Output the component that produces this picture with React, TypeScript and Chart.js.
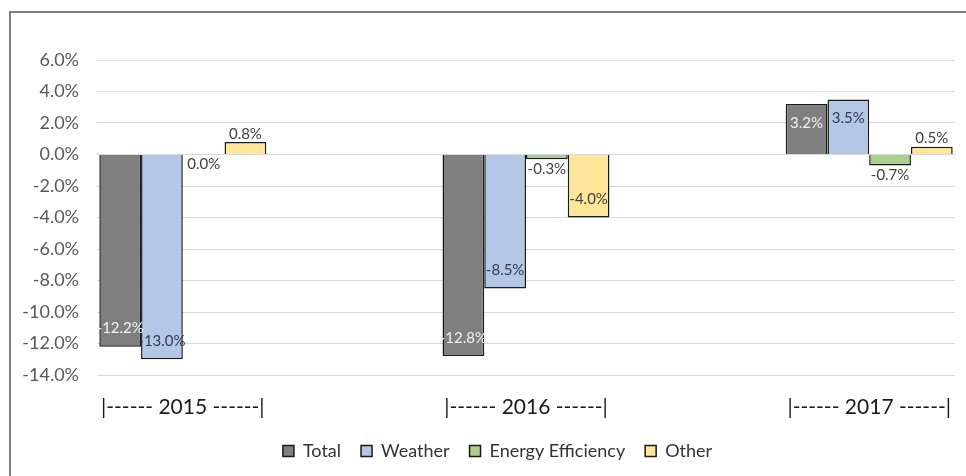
import React, { useEffect, useRef } from "react";
import { Chart, registerables } from "chart.js";

Chart.register(...registerables);

const categories = ["|------ 2015 ------|", "", "|------ 2016 ------|", "", "|------ 2017 ------|"];
const totalValues = [-12.2, null, -12.8, null, 3.2];
const weatherValues = [-13.0, null, -8.5, null, 3.5];
const efficiencyValues = [0.0, null, -0.3, null, -0.7];
const otherValues = [0.8, null, -4.0, null, 0.5];
const seriesNames = ["Total", "Weather", "Energy Efficiency", "Other"];
const seriesColors = ["#7f7f7f", "#b4c7e7", "#a9d18e", "#ffe699"];
const labelColors = ["#f2f2f2", "#2f3b52", "#404040", "#404040"];
const yMin = -14;
const yMax = 6;
const yStep = 2;

const FONT = 'Lato, "Open Sans", sans-serif';

const labelPlugin = {
  id: "barLabels",
  afterDatasetsDraw(chart: any) {
    const ctx = chart.ctx;
    ctx.save();
    ctx.font = `15px ${FONT}`;
    ctx.textAlign = "center";
    ctx.textBaseline = "middle";
    chart.data.datasets.forEach((ds: any, di: number) => {
      const meta = chart.getDatasetMeta(di);
      meta.data.forEach((bar: any, i: number) => {
        const v = ds.data[i];
        if (v === null || v === undefined) return;
        const h = Math.abs(bar.y - bar.base);
        let y: number;
        let color = "#404040";
        if (h > 25) {
          y = v >= 0 ? bar.y + 19 : bar.y - 18;
          color = labelColors[di];
        } else {
          y = v > 0 ? bar.y - 8 : bar.y + 10;
        }
        ctx.fillStyle = color;
        ctx.fillText(v.toFixed(1) + "%", bar.x, y);
      });
    });
    ctx.restore();
  },
};

const legendShift = {
  id: "legendShift",
  afterLayout(chart: any) {
    if (chart.legend) chart.legend.left = 40;
  },
};

export default function App() {
  const ref = useRef<HTMLCanvasElement>(null);
  useEffect(() => {
    if (!ref.current) return;
    const dataSets = [totalValues, weatherValues, efficiencyValues, otherValues];
    const chart = new Chart(ref.current, {
      type: "bar",
      data: {
        labels: categories,
        datasets: dataSets.map((d, i) => ({
          label: seriesNames[i],
          data: d,
          backgroundColor: seriesColors[i],
          borderColor: "#1a1a1a",
          borderWidth: 1.5,
          categoryPercentage: 0.973,
          barPercentage: 1,
        })),
      },
      options: {
        animation: false,
        responsive: false,
        devicePixelRatio: 1,
        layout: { padding: { top: 60, right: 11, left: 0, bottom: 6 } },
        plugins: {
          tooltip: { enabled: false },
          legend: {
            position: "bottom",
            labels: {
              boxWidth: 11,
              boxHeight: 11,
              padding: 20,
              color: "#333333",
              font: { family: FONT, size: 18 },
            },
          },
        },
        scales: {
          x: {
            grid: { display: false, drawTicks: false },
            border: { display: false },
            afterFit: (s: any) => {
              s.height = 47;
              s.paddingLeft = 0;
              s.paddingRight = 0;
            },
            ticks: {
              color: "#1a1a1a",
              font: { family: FONT, size: 21 },
              padding: 20,
              maxRotation: 0,
              autoSkip: false,
            },
          },
          y: {
            min: yMin,
            max: yMax,
            grid: { color: "#d9d9d9", lineWidth: 1, drawTicks: false },
            border: { display: false },
            afterFit: (s: any) => {
              s.width = 97;
              s.paddingTop = 0;
              s.paddingBottom = 0;
            },
            ticks: {
              stepSize: yStep,
              color: "#595959",
              padding: 18,
              font: { family: FONT, size: 18 },
              callback: (v: any) => Number(v).toFixed(1) + "%",
            },
          },
        },
      },
      plugins: [labelPlugin, legendShift],
    });
    return () => chart.destroy();
  }, []);
  return (
    <div style={{ position: "fixed", left: 0, top: 0, width: 966, height: 476, background: "#fff", overflow: "hidden" }}>
      <div
        style={{
          position: "absolute",
          left: 9,
          top: 11,
          width: 1000,
          height: 600,
          borderLeft: "2px solid #7f7f7f",
          borderTop: "2px solid #7f7f7f",
        }}
      />
      <canvas ref={ref} width={966} height={476} style={{ position: "absolute", left: 0, top: 0 }} />
    </div>
  );
}
